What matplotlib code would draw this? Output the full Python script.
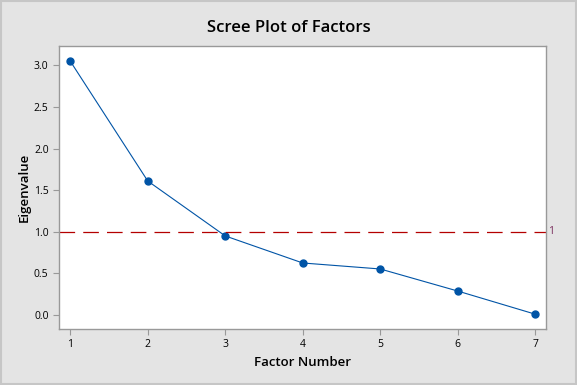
import matplotlib.pyplot as plt
from matplotlib.patches import Rectangle

plt.rc('font', family=['Open Sans', 'DejaVu Sans'])

factors = [1, 2, 3, 4, 5, 6, 7]
eigenvalues = [3.05, 1.61, 0.95, 0.625, 0.553, 0.288, 0.01]
yticks = [0.0, 0.5, 1.0, 1.5, 2.0, 2.5, 3.0]
ref_line = 1

fig = plt.figure(figsize=(5.77, 3.85), dpi=100, facecolor='#E4E4E4')
fig.patches.append(Rectangle((0.001, 0.002), 0.997, 0.995, transform=fig.transFigure,
                             fill=False, edgecolor='#C6C6C6', linewidth=1.5))
ax = fig.add_axes([0.1023, 0.1455, 0.844, 0.735])
ax.set_facecolor('white')

ax.plot(factors, eigenvalues, color='#0054A6', linewidth=0.8, marker='o',
        markersize=5, markerfacecolor='#0054A6', markeredgecolor='#0054A6')
ax.axhline(ref_line, color='#B40000', linestyle=(0, (12.5, 6.5)), linewidth=0.9)
ax.text(1.004, ref_line, '1', transform=ax.get_yaxis_transform(), va='center',
        ha='left', fontsize=7.5, color='#7A2E5E')

ax.set_xlim(0.855, 7.14)
ax.set_ylim(-0.168, 3.232)
ax.set_xticks(factors)
ax.set_yticks(yticks)
ax.set_yticklabels(['%.1f' % v for v in yticks])
ax.tick_params(colors='#999999', labelcolor='black', labelsize=7.5, length=4, width=0.8)

for s in ax.spines.values():
    s.set_color('#999999')
    s.set_linewidth(1)

ax.set_xlabel('Factor Number', fontsize=9.5, fontweight='semibold', labelpad=4)
ax.set_ylabel('Eigenvalue', fontsize=9.5, fontweight='semibold')
ax.yaxis.set_label_coords(-0.058, 0.5)
fig.text(0.5, 0.928, 'Scree Plot of Factors', ha='center', va='center',
         fontsize=12, fontweight='semibold')

plt.savefig('out.png', dpi=100, facecolor=fig.get_facecolor())
plt.close()
